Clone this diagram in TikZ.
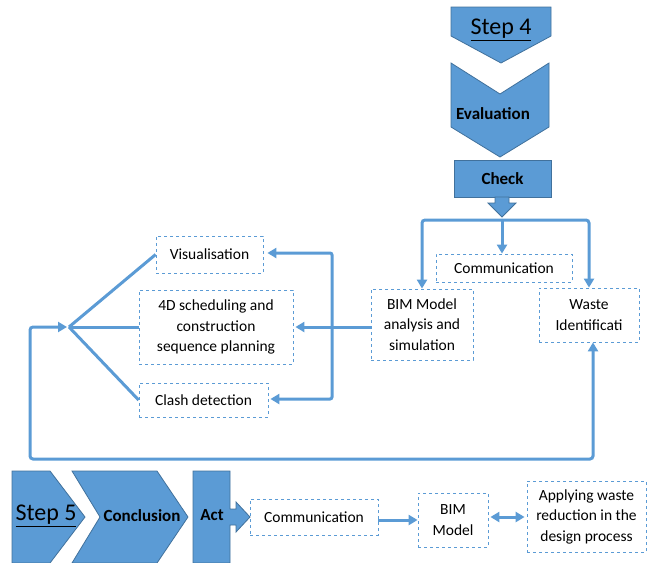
\documentclass[tikz,border=0pt]{standalone}
\usepackage{fontspec}
\setmainfont{Carlito}
\usetikzlibrary{arrows.meta}

\definecolor{officeblue}{HTML}{5B9BD5}
\definecolor{edgeblue}{HTML}{41719C}

\tikzset{
  dbox/.style={draw=officeblue, dashed, line width=0.8pt, align=center,
    inner sep=0pt, font=\fontsize{15.5}{20.5}\selectfont},
  blockshape/.style={fill=officeblue, draw=edgeblue, line width=0.8pt},
  conn/.style={draw=officeblue, line width=3pt},
  arr/.style={-{Triangle[length=9pt,width=10pt]}},
  biarr/.style={{Triangle[length=9pt,width=10pt]}-{Triangle[length=9pt,width=10pt]}},
  boldlabel/.style={font=\fontsize{17}{20}\selectfont\bfseries},
  steplabel/.style={font=\fontsize{24}{28}\selectfont}
}

\begin{document}
\begin{tikzpicture}[x=1pt,y=-1pt]
  \useasboundingbox (0,0) rectangle (647,562);
  \clip (0,0) rectangle (647,562);

  \draw[blockshape] (451,7) -- (551,7) -- (551,36) -- (501,63) -- (451,36) -- cycle;
  \node[steplabel] (step4) at (501,30) {\underline{Step 4}};

  \draw[blockshape] (451,63) -- (500,94) -- (549,63) -- (549,127) -- (500,157)
    -- (451,127) -- cycle;
  \node[boldlabel] (eval) at (493,114) {Evaluation};

  \node[blockshape, boldlabel, minimum width=97pt, minimum height=37pt]
    (check) at (502.5,178.5) {Check};
  \draw[blockshape] (495,197) -- (495,203) -- (488,203) -- (502,217) -- (516,203)
    -- (509,203) -- (509,197) -- cycle;

  \node[dbox, minimum width=136pt, minimum height=28pt] (comm1) at (504,268) {Communication};
  \node[dbox, minimum width=102pt, minimum height=71pt] (bim1) at (422,324.5)
    {BIM Model\\analysis and\\simulation};
  \node[dbox, minimum width=100pt, minimum height=54pt] (waste) at (589,315)
    {Waste\\Identificati};

  \node[dbox, minimum width=107pt, minimum height=37pt] (vis) at (209.5,254.5) {Visualisation};
  \node[dbox, minimum width=154pt, minimum height=74pt] (plan) at (216,327)
    {4D scheduling and\\construction\\sequence planning};
  \node[dbox, minimum width=129pt, minimum height=34pt] (clash) at (203.5,400) {Clash detection};

  \coordinate (split) at (502,220);
  \coordinate (fan) at (69,327);
  \coordinate (vtop) at (332,253);
  \coordinate (vbot) at (332,399);
  \coordinate (loopR) at (593,459);

  \draw[conn, arr, rounded corners=3] (split) -| (bim1.north);
  \draw[conn, arr, rounded corners=3] (split) -| (waste.north);
  \draw[conn, arr] (split) -- (split |- comm1.north);

  \draw[conn, arr] (bim1.west |- plan.east) -- ([xshift=2pt]plan.east);
  \draw[conn, biarr, rounded corners=2] ([xshift=4pt]vis.east |- vtop) -- (vtop)
    -- (vbot) -- ([xshift=2pt]clash.east |- vbot);

  \draw[conn] (fan) -- (vis.west);
  \draw[conn] (fan) -- (plan.west);
  \draw[conn] (fan) -- (clash.west);
  \draw[conn, biarr, rounded corners=3] ([xshift=-2pt]fan) -- (30,327) |- (loopR)
    -- (loopR |- waste.south);

  \draw[blockshape] (12,471) -- (50,471) -- (85,517) -- (50,563) -- (12,563) -- cycle;
  \node[steplabel] (step5) at (46,516) {\underline{Step 5}};

  \draw[blockshape] (72,471) -- (157,471) -- (188,517) -- (157,563) -- (72,563)
    -- (100,517) -- cycle;
  \node[boldlabel] (concl) at (142,516) {Conclusion};

  \draw[blockshape] (193,471) -- (230,471) -- (230,509) -- (236,509) -- (236,502)
    -- (250,517) -- (236,532) -- (236,525) -- (230,525) -- (230,563) -- (193,563) -- cycle;
  \node[boldlabel] (act) at (212,515) {Act};

  \node[dbox, minimum width=128pt, minimum height=36pt] (comm2) at (314,517) {Communication};
  \node[dbox, minimum width=70pt, minimum height=54pt] (bim2) at (453,520) {BIM\\Model};
  \node[dbox, minimum width=119pt, minimum height=71pt] (apply) at (586.5,516.5)
    {Applying waste\\reduction in the\\design process};

  \draw[conn, arr] (comm2.east |- bim2.west) -- (bim2.west);
  \draw[conn, biarr] ([xshift=2pt]bim2.east |- 0,517) -- ([xshift=-2pt]apply.west |- 0,517);

\end{tikzpicture}
\end{document}
